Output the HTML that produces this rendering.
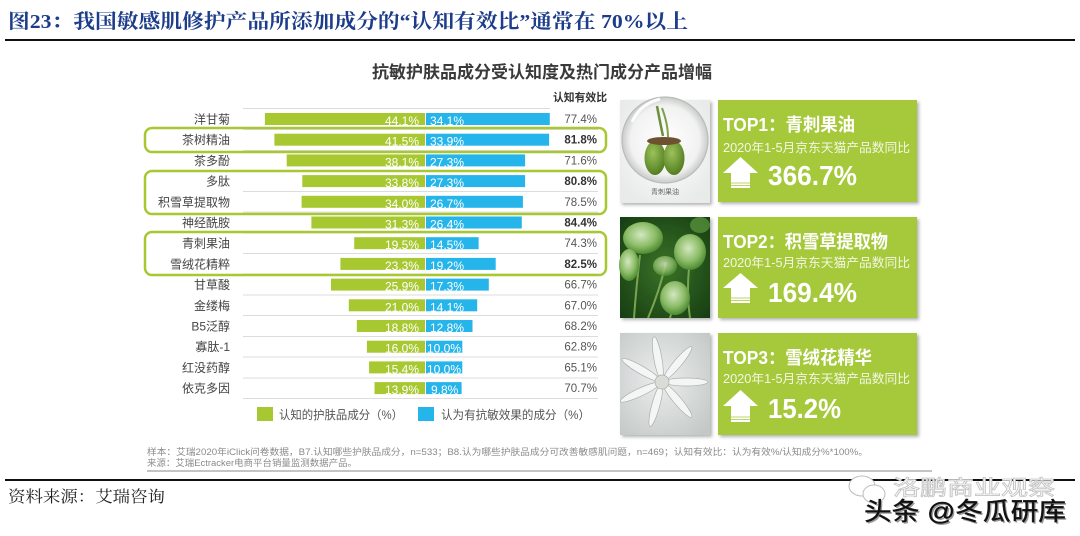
<!DOCTYPE html>
<html><head><meta charset="utf-8"><style>
html,body{margin:0;padding:0;background:#fff;width:1080px;height:536px;overflow:hidden}
svg{display:block}
.s{font-family:"Liberation Sans","Noto Sans CJK SC",sans-serif}
.lab{font-size:12px;fill:#444}
.bl{font-size:12px;fill:#fff}
.rv{font-size:11.5px;fill:#555}
.rb{font-size:11.5px;fill:#333;font-weight:bold}
</style></head><body>
<svg width="1080" height="536" viewBox="0 0 1080 536" xmlns="http://www.w3.org/2000/svg">
<defs>
<filter id="sh" x="-10%" y="-10%" width="130%" height="130%"><feDropShadow dx="2" dy="2" stdDeviation="1.5" flood-color="#000" flood-opacity="0.3"/></filter>
<radialGradient id="g1" cx="0.5" cy="0.45" r="0.6"><stop offset="0" stop-color="#ffffff"/><stop offset="1" stop-color="#e9ebea"/></radialGradient>
<radialGradient id="sph" cx="0.5" cy="0.5" r="0.5"><stop offset="0" stop-color="#ffffff"/><stop offset="0.8" stop-color="#f1f2f1"/><stop offset="1" stop-color="#c9cbc9"/></radialGradient>
<radialGradient id="berry" cx="0.4" cy="0.35" r="0.7"><stop offset="0" stop-color="#9cc25a"/><stop offset="1" stop-color="#4f7a1e"/></radialGradient>
<radialGradient id="g2" cx="0.5" cy="0.5" r="0.7"><stop offset="0" stop-color="#3a7228"/><stop offset="1" stop-color="#163d12"/></radialGradient>
<radialGradient id="leaf" cx="0.45" cy="0.4" r="0.6"><stop offset="0" stop-color="#d3e7c0"/><stop offset="0.6" stop-color="#8dbd68"/><stop offset="1" stop-color="#4d8a32"/></radialGradient>
<radialGradient id="g3" cx="0.45" cy="0.45" r="0.7"><stop offset="0" stop-color="#eceeee"/><stop offset="1" stop-color="#c4c9c8"/></radialGradient>
</defs>

<!-- header -->
<text x="8" y="28" font-family="'Liberation Serif','Noto Serif CJK SC',serif" font-weight="bold" font-size="20" fill="#1d3d8a" textLength="680" lengthAdjust="spacingAndGlyphs">图23：我国敏感肌修护产品所添加成分的“认知有效比”通常在 70%以上</text>
<rect x="5" y="39" width="1070" height="2" fill="#111"/>

<!-- chart title -->
<text class="s" x="372" y="78" font-size="17" font-weight="bold" fill="#3a3a3a" textLength="340" lengthAdjust="spacingAndGlyphs">抗敏护肤品成分受认知度及热门成分产品增幅</text>
<text class="s" x="553" y="101" font-size="11" font-weight="bold" fill="#333" textLength="54" lengthAdjust="spacingAndGlyphs">认知有效比</text>

<!-- separator lines -->
<g stroke="#dcdcdc" stroke-width="1">
<line x1="243" y1="108.5" x2="550" y2="108.5"/>
<line x1="243" y1="129.5" x2="598" y2="129.5"/>
<line x1="243" y1="150.5" x2="598" y2="150.5"/>
<line x1="243" y1="171" x2="598" y2="171"/>
<line x1="243" y1="191.5" x2="598" y2="191.5"/>
<line x1="243" y1="212" x2="598" y2="212"/>
<line x1="243" y1="233" x2="598" y2="233"/>
<line x1="243" y1="253.5" x2="598" y2="253.5"/>
<line x1="243" y1="274" x2="598" y2="274"/>
<line x1="243" y1="295" x2="598" y2="295"/>
<line x1="243" y1="315.5" x2="598" y2="315.5"/>
<line x1="243" y1="336.5" x2="598" y2="336.5"/>
<line x1="243" y1="357" x2="598" y2="357"/>
<line x1="243" y1="378" x2="598" y2="378"/>
<line x1="243" y1="398.5" x2="598" y2="398.5"/>
</g>

<!-- bars -->
<g fill="#a8c832">
<rect x="264.9" y="113" width="160.1" height="12"/>
<rect x="274.4" y="133.7" width="150.6" height="12"/>
<rect x="286.7" y="154.4" width="138.3" height="12"/>
<rect x="302.3" y="175.1" width="122.7" height="12"/>
<rect x="301.6" y="195.8" width="123.4" height="12"/>
<rect x="311.4" y="216.5" width="113.6" height="12"/>
<rect x="354.2" y="237.2" width="70.8" height="12"/>
<rect x="340.4" y="257.9" width="84.6" height="12"/>
<rect x="331" y="278.6" width="94" height="12"/>
<rect x="348.8" y="299.3" width="76.2" height="12"/>
<rect x="356.8" y="320" width="68.2" height="12"/>
<rect x="366.9" y="340.7" width="58.1" height="12"/>
<rect x="369.1" y="361.4" width="55.9" height="12"/>
<rect x="374.5" y="382.1" width="50.5" height="12"/>
</g>
<g fill="#26b5ea">
<rect x="426" y="113" width="123.8" height="12"/>
<rect x="426" y="133.7" width="123.1" height="12"/>
<rect x="426" y="154.4" width="99.1" height="12"/>
<rect x="426" y="175.1" width="99.1" height="12"/>
<rect x="426" y="195.8" width="96.9" height="12"/>
<rect x="426" y="216.5" width="95.8" height="12"/>
<rect x="426" y="237.2" width="52.6" height="12"/>
<rect x="426" y="257.9" width="69.7" height="12"/>
<rect x="426" y="278.6" width="62.8" height="12"/>
<rect x="426" y="299.3" width="51.2" height="12"/>
<rect x="426" y="320" width="46.5" height="12"/>
<rect x="426" y="340.7" width="36.3" height="12"/>
<rect x="426" y="361.4" width="36.3" height="12"/>
<rect x="426" y="382.1" width="35.6" height="12"/>
</g>

<!-- bar labels -->
<g class="s bl" text-anchor="end">
<text x="419" y="125">44.1%</text>
<text x="419" y="145.7">41.5%</text>
<text x="419" y="166.4">38.1%</text>
<text x="419" y="187.1">33.8%</text>
<text x="419" y="207.8">34.0%</text>
<text x="419" y="228.5">31.3%</text>
<text x="419" y="249.2">19.5%</text>
<text x="419" y="269.9">23.3%</text>
<text x="419" y="290.6">25.9%</text>
<text x="419" y="311.3">21.0%</text>
<text x="419" y="332">18.8%</text>
<text x="419" y="352.7">16.0%</text>
<text x="419" y="373.4">15.4%</text>
<text x="419" y="394.1">13.9%</text>
</g>
<g class="s bl">
<text x="430" y="125">34.1%</text>
<text x="430" y="145.7">33.9%</text>
<text x="430" y="166.4">27.3%</text>
<text x="430" y="187.1">27.3%</text>
<text x="430" y="207.8">26.7%</text>
<text x="430" y="228.5">26.4%</text>
<text x="430" y="249.2">14.5%</text>
<text x="430" y="269.9">19.2%</text>
<text x="430" y="290.6">17.3%</text>
<text x="430" y="311.3">14.1%</text>
<text x="430" y="332">12.8%</text>
<text x="427" y="352.7">10.0%</text>
<text x="427" y="373.4">10.0%</text>
<text x="431" y="394.1">9.8%</text>
</g>

<!-- row labels -->
<g class="s lab" text-anchor="end">
<text x="230" y="123.5">洋甘菊</text>
<text x="230" y="144.2">茶树精油</text>
<text x="230" y="164.9">茶多酚</text>
<text x="230" y="185.6">多肽</text>
<text x="230" y="206.3">积雪草提取物</text>
<text x="230" y="227">神经酰胺</text>
<text x="230" y="247.7">青刺果油</text>
<text x="230" y="268.4">雪绒花精粹</text>
<text x="230" y="289.1">甘草酸</text>
<text x="230" y="309.8">金缕梅</text>
<text x="230" y="330.5">B5泛醇</text>
<text x="230" y="351.2">寡肽-1</text>
<text x="230" y="371.9">红没药醇</text>
<text x="230" y="392.6">依克多因</text>
</g>

<!-- right values -->
<g class="s" text-anchor="end">
<text class="rv" x="597" y="123">77.4%</text>
<text class="rb" x="597" y="143.7">81.8%</text>
<text class="rv" x="597" y="164.4">71.6%</text>
<text class="rb" x="597" y="185.1">80.8%</text>
<text class="rv" x="597" y="205.8">78.5%</text>
<text class="rb" x="597" y="226.5">84.4%</text>
<text class="rv" x="597" y="247.2">74.3%</text>
<text class="rb" x="597" y="267.9">82.5%</text>
<text class="rv" x="597" y="288.6">66.7%</text>
<text class="rv" x="597" y="309.3">67.0%</text>
<text class="rv" x="597" y="330">68.2%</text>
<text class="rv" x="597" y="350.7">62.8%</text>
<text class="rv" x="597" y="371.4">65.1%</text>
<text class="rv" x="597" y="392.1">70.7%</text>
</g>

<!-- highlight boxes -->
<g fill="none" stroke="#a8c832" stroke-width="2.5">
<rect x="145" y="128" width="461" height="24" rx="7"/>
<rect x="145" y="171" width="461" height="43" rx="7"/>
<rect x="145" y="232" width="461" height="43" rx="7"/>
</g>

<!-- legend -->
<rect x="257" y="407" width="16" height="14" fill="#a8c832"/>
<text class="s" x="279" y="419" font-size="12" fill="#555" textLength="124" lengthAdjust="spacingAndGlyphs">认知的护肤品成分（%）</text>
<rect x="418" y="407" width="16" height="14" fill="#26b5ea"/>
<text class="s" x="441" y="419" font-size="12" fill="#555" textLength="149" lengthAdjust="spacingAndGlyphs">认为有抗敏效果的成分（%）</text>

<!-- image 1 -->
<g filter="url(#sh)"><rect x="620" y="100" width="90" height="103" fill="url(#g1)"/></g>
<circle cx="665" cy="140" r="43" fill="url(#sph)" stroke="#b9bcb9" stroke-width="1.2"/>
<path d="M632 122 Q640 104 660 99" stroke="#ffffff" stroke-width="3" fill="none" opacity="0.9"/>
<path d="M657 106 Q660 122 663 136" stroke="#6b8f3a" stroke-width="2.5" fill="none"/>
<path d="M662 108 Q668 124 668 137" stroke="#7fa048" stroke-width="2" fill="none"/>
<ellipse cx="655" cy="158" rx="10.5" ry="17" fill="url(#berry)"/>
<ellipse cx="674" cy="158" rx="10.5" ry="17" fill="url(#berry)"/>
<ellipse cx="664" cy="141" rx="17" ry="4" fill="#6e5230"/>
<text class="s" x="665" y="194" font-size="7" fill="#666" text-anchor="middle">青刺果油</text>

<!-- image 2 -->
<g filter="url(#sh)"><rect x="620" y="217" width="90" height="101" fill="url(#g2)"/></g>
<g stroke="#8fb85e" stroke-width="2" fill="none" opacity="0.8">
<path d="M640 255 Q636 290 634 318"/><path d="M666 262 Q660 290 648 318"/><path d="M690 260 Q686 290 690 318"/><path d="M676 300 Q672 310 670 318"/>
</g>
<ellipse cx="643" cy="238" rx="20" ry="16" fill="url(#leaf)"/>
<ellipse cx="629" cy="265" rx="10" ry="16" fill="url(#leaf)"/>
<ellipse cx="690" cy="252" rx="16" ry="18" fill="url(#leaf)"/>
<ellipse cx="675" cy="298" rx="15" ry="17" fill="url(#leaf)"/>
<ellipse cx="665" cy="266" rx="12" ry="10" fill="url(#leaf)" opacity="0.8"/>
<ellipse cx="700" cy="225" rx="10" ry="8" fill="#5e9a3e" opacity="0.7"/>

<!-- image 3 -->
<g filter="url(#sh)"><rect x="620" y="333" width="90" height="102" fill="url(#g3)"/></g>
<g transform="translate(662,382)" fill="#f4f6f5" stroke="#a9afac" stroke-width="0.7">
<ellipse cx="0" cy="-24" rx="4" ry="22" transform="rotate(-10)"/>
<ellipse cx="0" cy="-24" rx="4" ry="22" transform="rotate(40)"/>
<ellipse cx="0" cy="-24" rx="4" ry="22" transform="rotate(90)"/>
<ellipse cx="0" cy="-24" rx="4" ry="22" transform="rotate(140)"/>
<ellipse cx="0" cy="-24" rx="4" ry="22" transform="rotate(195)"/>
<ellipse cx="0" cy="-24" rx="4" ry="22" transform="rotate(245)"/>
<ellipse cx="0" cy="-24" rx="4" ry="22" transform="rotate(300)"/>
<circle cx="0" cy="0" r="7" fill="#d9ddd6"/>
</g>

<!-- cards -->
<g filter="url(#sh)" fill="#a6c93a">
<rect x="718" y="100" width="199" height="102"/>
<rect x="718" y="217" width="199" height="101"/>
<rect x="718" y="333" width="199" height="102"/>
</g>
<g class="s" fill="#fff" font-weight="bold">
<text x="723" y="131" font-size="18" textLength="132" lengthAdjust="spacingAndGlyphs">TOP1：青刺果油</text>
<text x="723" y="248" font-size="18" textLength="165" lengthAdjust="spacingAndGlyphs">TOP2：积雪草提取物</text>
<text x="723" y="364" font-size="18" textLength="149" lengthAdjust="spacingAndGlyphs">TOP3：雪绒花精华</text>
<text x="768" y="185" font-size="28" textLength="89" lengthAdjust="spacingAndGlyphs">366.7%</text>
<text x="768" y="302" font-size="28" textLength="89" lengthAdjust="spacingAndGlyphs">169.4%</text>
<text x="768" y="418" font-size="28" textLength="73" lengthAdjust="spacingAndGlyphs">15.2%</text>
</g>
<g class="s" fill="#f3f7e4" font-size="12.5">
<text x="723" y="152" textLength="187" lengthAdjust="spacingAndGlyphs">2020年1-5月京东天猫产品数同比</text>
<text x="723" y="267" textLength="187" lengthAdjust="spacingAndGlyphs">2020年1-5月京东天猫产品数同比</text>
<text x="723" y="383" textLength="187" lengthAdjust="spacingAndGlyphs">2020年1-5月京东天猫产品数同比</text>
</g>
<g fill="#fff">
<path d="M740.5 157 L758 173 L750 173 L750 188 L731 188 L731 173 L723 173 Z"/>
<path d="M740.5 273 L758 288 L750 288 L750 303 L731 303 L731 288 L723 288 Z"/>
<path d="M740.5 390 L758 406 L750 406 L750 422 L731 422 L731 406 L723 406 Z"/>
</g>
<g stroke="#a6c93a" stroke-width="0.8">
<line x1="731" y1="183" x2="750" y2="183"/><line x1="731" y1="185.5" x2="750" y2="185.5"/>
<line x1="731" y1="298" x2="750" y2="298"/><line x1="731" y1="300.5" x2="750" y2="300.5"/>
<line x1="731" y1="417" x2="750" y2="417"/><line x1="731" y1="419.5" x2="750" y2="419.5"/>
</g>

<!-- footnotes -->
<text class="s" x="147" y="455" font-size="9" fill="#8a8a8a" textLength="721" lengthAdjust="spacingAndGlyphs">样本：艾瑞2020年iClick问卷数据，B7.认知哪些护肤品成分，n=533；B8.认为哪些护肤品成分可改善敏感肌问题，n=469；认知有效比：认为有效%/认知成分%*100%。</text>
<text class="s" x="147" y="466" font-size="9" fill="#8a8a8a" textLength="210" lengthAdjust="spacingAndGlyphs">来源：艾瑞Ectracker电商平台销量监测数据产品。</text>
<line x1="147" y1="471" x2="932" y2="471" stroke="#888" stroke-width="1"/>
<rect x="5" y="479" width="1070" height="2" fill="#111"/>

<text x="8" y="502" font-family="'Liberation Serif','Noto Serif CJK SC',serif" font-size="16" fill="#222" textLength="157" lengthAdjust="spacingAndGlyphs">资料来源：艾瑞咨询</text>

<!-- watermark -->
<g fill="#fff" stroke="#bdbdbd" stroke-width="1">
<ellipse cx="862" cy="486" rx="13" ry="10"/>
<ellipse cx="874" cy="494" rx="11" ry="9"/>
</g>
<text class="s" x="893" y="495" font-size="21" fill="#fff" stroke="#c4c4c4" stroke-width="0.8" textLength="162" lengthAdjust="spacingAndGlyphs">洛鹏商业观察</text>
<text class="s" x="864" y="520" font-size="25" fill="#999" textLength="202" lengthAdjust="spacingAndGlyphs" transform="translate(1.5,1.5)">头条 @冬瓜研库</text>
<text class="s" x="864" y="520" font-size="25" fill="#111" stroke="#111" stroke-width="0.4" textLength="202" lengthAdjust="spacingAndGlyphs">头条 @冬瓜研库</text>
</svg>
</body></html>
